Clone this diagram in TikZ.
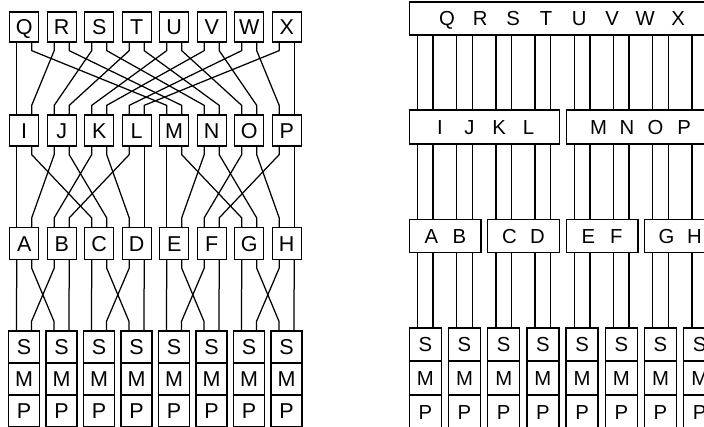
\documentclass[tikz,border=0pt]{standalone}
\usepackage{fontspec}
\setmainfont{Liberation Sans}
\newcommand{\lbx}[2]{\makebox[#1]{#2}}
\begin{document}
\begin{tikzpicture}[x=1pt,y=-1pt,
  box/.style={draw,line width=1.25pt,inner sep=0pt,minimum width=29pt,minimum height=31pt,
    text height=15.4pt,text depth=0pt,font=\fontsize{21.5}{25}\selectfont},
  cell/.style={box,minimum width=31pt,minimum height=32pt},
  rbox/.style={draw,line width=1.25pt,inner sep=0pt,minimum height=33pt,
    text height=14.5pt,text depth=0pt,font=\fontsize{20.3}{24}\selectfont},
  wire/.style={line width=1.25pt,line join=round}]
\useasboundingbox (0,0) rectangle (704,426);

% ---------------- left diagram ----------------
\foreach \L [count=\k from 0] in {Q,R,S,T,U,V,W,X}
  \node[box,minimum height=30pt] (lq\k) at ({24.2+37.5*\k},27) {\L};
\foreach \L [count=\k from 0] in {I,J,K,L,M,N,O,P}
  \node[box] (li\k) at ({24.2+37.5*\k},130.5) {\L};
\foreach \L [count=\k from 0] in {A,B,C,D,E,F,G,H}
  \node[box,minimum height=32pt] (la\k) at ({24.2+37.5*\k},243.5) {\L};
\foreach \k in {0,...,7}{
  \node[cell] (ls\k) at ({24+37.5*\k},347) {S};
  \node[cell] (lm\k) at ({24+37.5*\k},379) {M};
  \node[cell] (lp\k) at ({24+37.5*\k},411) {P};
}

\foreach \g/\src/\dst in {16/lq/li,8/li/la,4/la/ls}{
  \foreach \i in {0,...,15}{
    \pgfmathtruncatemacro\srcbox{div(\i,2)}
    \pgfmathsetmacro\srcdx{ifthenelse(mod(\i,2)==0,-7.5,7.5)}
    \pgfmathtruncatemacro\gbase{\g*div(\i,\g)}
    \pgfmathtruncatemacro\jj{\i-\gbase}
    \pgfmathtruncatemacro\outw{\gbase+ifthenelse(mod(\jj,2)==0,\jj/2,\g/2+(\jj-1)/2)}
    \pgfmathtruncatemacro\dstbox{div(\outw,2)}
    \pgfmathsetmacro\dstdx{ifthenelse(mod(\outw,2)==0,-7.5,7.5)}
    \draw[wire] ([xshift=\srcdx pt]\src\srcbox.south) -- ++(0pt,-8pt)
      -- ([xshift=\dstdx pt,yshift=9pt]\dst\dstbox.north)
      -- ([xshift=\dstdx pt]\dst\dstbox.north);
  }
}

% ---------------- right diagram ----------------
\node[rbox,minimum width=306.7pt] (rtop) at (562.6,18.5)
  {\lbx{33pt}{Q}\lbx{33pt}{R}\lbx{33pt}{S}\lbx{33pt}{T}\lbx{33pt}{U}\lbx{33pt}{V}\lbx{33pt}{W}\lbx{33pt}{X}};
\node[rbox,minimum width=150pt,minimum height=34pt] (rh0) at (484.3,127)
  {\lbx{29.5pt}{I}\lbx{29.5pt}{J}\lbx{29.5pt}{K}\lbx{29.5pt}{L}};
\node[rbox,minimum width=150pt,minimum height=34pt] (rh1) at (641.3,127)
  {\lbx{28.5pt}{M}\lbx{28.5pt}{N}\lbx{28.5pt}{O}\lbx{28.5pt}{P}};
\node[rbox,minimum width=71.5pt] (rg0) at (445.3,236) {\lbx{28pt}{A}\lbx{28pt}{B}};
\node[rbox,minimum width=71.5pt] (rg1) at (523.5,236) {\lbx{28pt}{C}\lbx{28pt}{D}};
\node[rbox,minimum width=71.5pt] (rg2) at (602.3,236) {\lbx{28pt}{E}\lbx{28pt}{F}};
\node[rbox,minimum width=71.5pt] (rg3) at (680.5,236) {\lbx{28pt}{G}\lbx{28pt}{H}};
\foreach \k in {0,...,7}{
  \node[rbox,minimum width=32pt] (rs\k) at ({425.3+39.2*\k},344.5) {S};
  \node[rbox,minimum width=32pt,minimum height=34pt] (rm\k) at ({425.3+39.2*\k},378) {M};
  \node[rbox,minimum width=32pt,minimum height=34pt] (rp\k) at ({425.3+39.2*\k},412) {P};
}
\foreach \k in {0,...,7}{
  \pgfmathtruncatemacro\hh{div(\k,4)}
  \pgfmathtruncatemacro\gg{div(\k,2)}
  \foreach \s in {-7.8,7.8}{
    \pgfmathsetmacro\xx{425.3+39.2*\k+\s}
    \draw[wire] (\xx,0 |- rtop.south) -- (\xx,0 |- rh\hh.north);
    \draw[wire] (\xx,0 |- rh\hh.south) -- (\xx,0 |- rg\gg.north);
    \draw[wire] (\xx,0 |- rg\gg.south) -- ([xshift=\s pt]rs\k.north);
  }
}
\end{tikzpicture}
\end{document}
